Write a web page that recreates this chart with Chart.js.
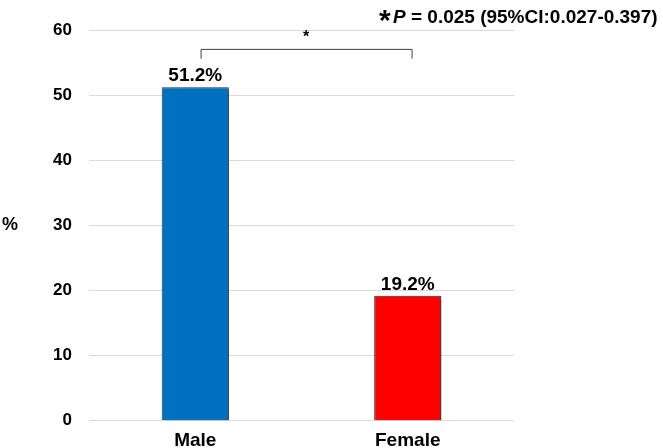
<!DOCTYPE html>
<html lang="en">
<head>
    <meta charset="UTF-8">
    <title>Male vs Female</title>
    <script src="https://cdn.jsdelivr.net/npm/chart.js"></script>
    <style>
        html, body {
            margin: 0;
            padding: 0;
            background: #ffffff;
        }
        .chart-container {
            position: relative;
            width: 663px;
            height: 448px;
        }
    </style>
</head>
<body>
    <div class="chart-container">
        <canvas id="myChart" width="663" height="448"></canvas>
    </div>
<script>

    const categories = ['Male', 'Female'];
    const percentValues = [51.2, 19.2];
    const barColors = ['#0070C0', '#FF0000'];
    const yTicks = [0, 10, 20, 30, 40, 50, 60];
    const pValueText = 'P = 0.025 (95%CI:0.027-0.397)';

    const FONT = "'Liberation Sans', Arial, sans-serif";

    // value labels above bars, the % axis title, bracket and p value
    const annotatePlugin = {
        id: 'annotate',
        beforeDatasetsDraw(chart) {
            const c = chart.ctx;
            c.save();
            c.shadowColor = 'rgba(0,0,0,0.55)';
            c.shadowOffsetX = 3;
            c.shadowOffsetY = 2;
            c.shadowBlur = 3;
        },
        afterDatasetsDraw(chart) {
            const c = chart.ctx;
            c.restore();

            const meta = chart.getDatasetMeta(0);
            c.save();
            c.fillStyle = '#000000';
            c.font = 'bold 19px ' + FONT;
            c.textAlign = 'center';
            c.textBaseline = 'alphabetic';
            meta.data.forEach((bar, i) => {
                c.fillText(percentValues[i].toFixed(1) + '%', bar.x, bar.y - 6);
            });

            // y axis title, not rotated
            const area = chart.chartArea;
            c.font = 'bold 18px ' + FONT;
            c.textAlign = 'left';
            c.textBaseline = 'middle';
            c.fillText('%', 2, (area.top + area.bottom) / 2);

            // significance bracket between the two bars
            const xs = chart.scales.x;
            const ys = chart.scales.y;
            const step = xs.getPixelForValue(1) - xs.getPixelForValue(0);
            const x1 = xs.getPixelForValue(0) + step * 0.025;
            const x2 = xs.getPixelForValue(1) + step * 0.018;
            const yTop = ys.getPixelForValue(57.1);
            const yBot = ys.getPixelForValue(55.6);
            c.strokeStyle = '#404040';
            c.lineWidth = 1;
            c.beginPath();
            c.moveTo(x1 + 0.5, yBot);
            c.lineTo(x1 + 0.5, yTop + 0.5);
            c.lineTo(x2 + 0.5, yTop + 0.5);
            c.lineTo(x2 + 0.5, yBot);
            c.stroke();

            c.font = 'bold 16px ' + FONT;
            c.textAlign = 'center';
            c.textBaseline = 'alphabetic';
            c.fillText('*', (x1 + x2) / 2, ys.getPixelForValue(59.7) + 10);

            // p value note in the top right
            c.textAlign = 'left';
            c.font = 'bold 30px ' + FONT;
            c.fillText('*', 379, 30);
            c.font = 'italic bold 19px ' + FONT;
            c.fillText('P', 393, 23);
            const pw = c.measureText('P').width;
            c.font = 'bold 19px ' + FONT;
            c.fillText(pValueText.slice(1), 393 + pw, 23);
            c.restore();
        }
    };

    const data = {
        labels: categories,
        datasets: [{
            data: percentValues,
            backgroundColor: barColors,
            borderColor: '#303030',
            borderWidth: 1,
            barPercentage: 0.316,
            categoryPercentage: 1.0
        }]
    };

    const config = {
        type: 'bar',
        data: data,
        options: {
            responsive: false,
            animation: false,
            events: [],
            layout: {
                padding: { top: 30, right: 149, left: 0, bottom: 0 }
            },
            plugins: {
                legend: { display: false },
                tooltip: { enabled: false },
                title: { display: false }
            },
            scales: {
                x: {
                    grid: { display: false, drawTicks: false },
                    border: { display: false },
                    ticks: {
                        color: '#000000',
                        padding: 9,
                        font: { family: FONT, size: 19, weight: 'bold' }
                    },
                    afterFit(scale) {
                        scale.height = 26;
                    }
                },
                y: {
                    min: 0,
                    max: 60,
                    afterBuildTicks(scale) {
                        scale.ticks = yTicks.map(v => ({ value: v }));
                    },
                    grid: {
                        color: '#d9d9d9',
                        lineWidth: 1,
                        drawTicks: false
                    },
                    border: { display: false },
                    ticks: {
                        color: '#000000',
                        padding: 17,
                        font: { family: FONT, size: 17, weight: 'bold' }
                    },
                    afterFit(scale) {
                        scale.width = 89;
                    }
                }
            }
        },
        plugins: [annotatePlugin]
    };

    const ctx = document.getElementById('myChart');
    const chart = new Chart(ctx, config);

</script>
</body>
</html>
